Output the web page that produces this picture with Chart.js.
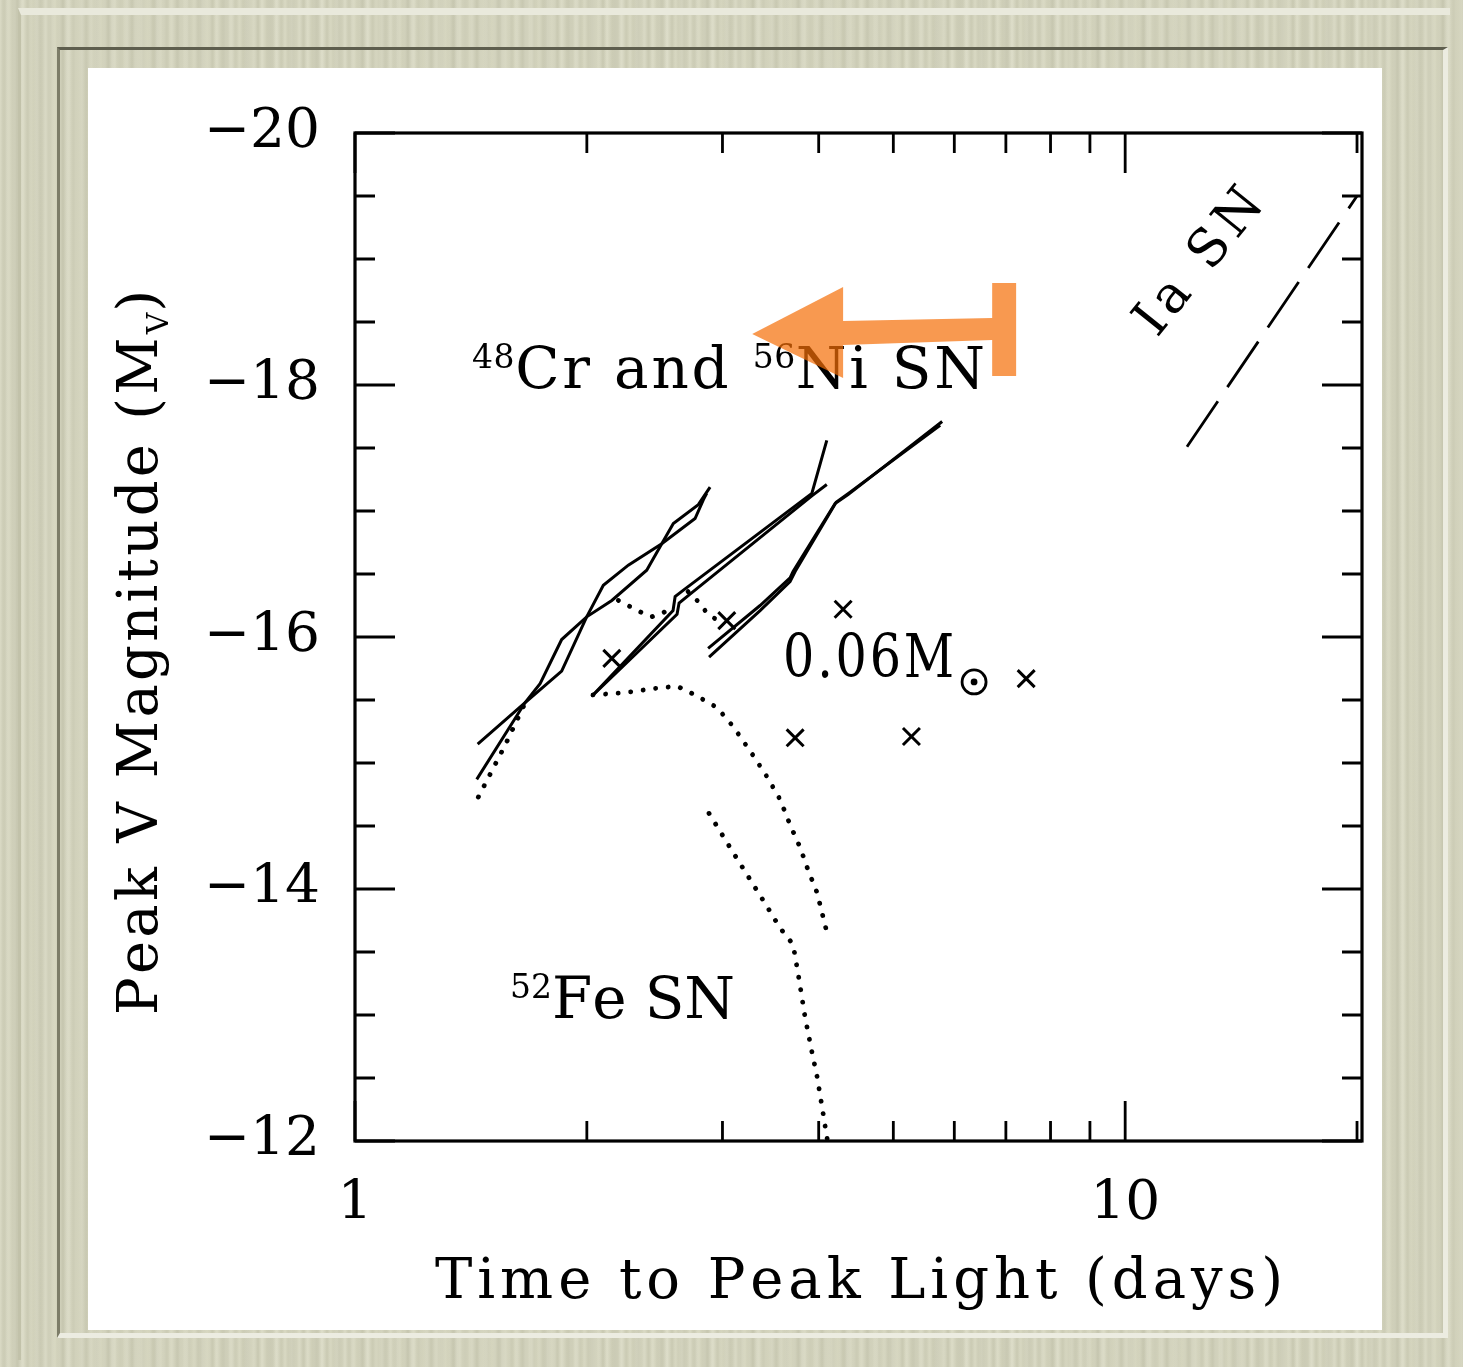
<!DOCTYPE html>
<html>
<head>
<meta charset="utf-8">
<script src="https://cdn.jsdelivr.net/npm/chart.js@4.4.1/dist/chart.umd.min.js"></script>
<style>
  html, body { margin: 0; padding: 0; }
  body {
    width: 1463px; height: 1367px; position: relative; overflow: hidden;
    background:
      repeating-linear-gradient(90deg, rgba(255,255,255,0.10) 0px, rgba(0,0,0,0.04) 5px, rgba(255,255,255,0.06) 9px, rgba(0,0,0,0.05) 17px, rgba(255,255,255,0.10) 23px),
      repeating-linear-gradient(90deg, #d6d6bf 0px, #d0d0b8 3px, #dadac4 7px, #d2d2ba 12px, #d6d6bf 15px);
  }
  .frame { position: absolute; left: 18px; top: 8px; width: 1432px; height: 1352px;
           border-top: 7px solid #e9e9dc; border-left: 3px solid #c2c2aa; box-sizing: border-box; }
  .mat { position: absolute; left: 57px; top: 47px; width: 1391px; height: 1291px; box-sizing: border-box;
         border-top: 3px solid #5e5e4e; border-left: 3px solid #7c7c68;
         border-bottom: 5px solid #ecece1; border-right: 5px solid #ecece1; }
  .panel { position: absolute; left: 88px; top: 68px; width: 1294px; height: 1262px; background: #fff; }
  canvas { position: absolute; left: 0; top: 0; }
</style>
</head>
<body>
<div class="frame"></div>
<div class="mat"></div>
<div class="panel"></div>
<canvas id="chart" width="1463" height="1367"></canvas>
<script>
// axis ticks
const xMajorTicks = [1, 10];
const xMinorTicks = [2, 3, 4, 5, 6, 7, 8, 9, 20];
const yMajorTicks = [-20, -18, -16, -14, -12];
const yMinorTicks = [-19.5, -19, -18.5, -17.5, -17, -16.5, -15.5, -15, -14.5, -13.5, -13, -12.5];

// solid model tracks: time to peak (days) and peak Mv
const modelA1Time = [1.443, 1.663, 1.855, 1.999, 2.101, 2.264, 2.502, 2.764, 2.834, 2.862];
const modelA1Mag  = [-15.15, -15.48, -15.73, -16.16, -16.41, -16.57, -16.74, -16.94, -17.09, -17.14];
const modelA2Time = [1.439, 1.663, 1.739, 1.855, 1.999, 2.155, 2.392, 2.502, 2.590, 2.791, 2.891];
const modelA2Mag  = [-14.87, -15.48, -15.63, -15.98, -16.16, -16.29, -16.53, -16.74, -16.90, -17.05, -17.19];
const modelB1Time = [2.030, 2.588, 2.604, 2.667, 3.919, 4.098];
const modelB1Mag  = [-15.53, -16.21, -16.32, -16.37, -17.14, -17.56];
const modelB2Time = [2.030, 2.619, 2.635, 2.723, 3.919, 4.098];
const modelB2Mag  = [-15.53, -16.18, -16.27, -16.34, -17.12, -17.21];
const modelC1Time = [2.874, 3.357, 3.672, 3.705, 4.201, 4.368, 5.786];
const modelC1Mag  = [-15.91, -16.25, -16.47, -16.52, -17.06, -17.13, -17.71];
const modelC2Time = [2.882, 3.357, 3.672, 3.728, 4.214, 4.394, 5.751];
const modelC2Mag  = [-15.84, -16.21, -16.44, -16.52, -17.07, -17.15, -17.68];

// dotted tracks
const dotLeftTime  = [1.446, 1.566, 1.679];
const dotLeftMag   = [-14.73, -15.14, -15.53];
const dotLinkATime = [2.198, 2.345, 2.428, 2.527, 2.590];
const dotLinkAMag  = [-16.29, -16.20, -16.16, -16.20, -16.25];
const dotLinkBTime = [2.707, 2.781, 2.874, 2.997];
const dotLinkBMag  = [-16.36, -16.29, -16.18, -16.11];
const dotUpperTime = [2.037, 2.256, 2.431, 2.619, 2.764, 2.952, 3.097, 3.288, 3.428, 3.564, 3.672, 3.784, 3.875, 3.981, 4.090];
const dotUpperMag  = [-15.54, -15.56, -15.59, -15.61, -15.54, -15.44, -15.29, -15.06, -14.89, -14.71, -14.51, -14.33, -14.15, -13.97, -13.68];
const dotLowerTime = [2.882, 3.097, 3.428, 3.564, 3.705, 3.761, 3.841, 3.922, 3.981, 4.053, 4.102];
const dotLowerMag  = [-14.60, -14.29, -13.86, -13.69, -13.56, -13.33, -12.98, -12.70, -12.51, -12.22, -12.02];

// x marks at 0.06 Msun
const markTime = [2.155, 3.039, 4.303, 7.438, 3.728, 5.278];
const markMag  = [-15.83, -16.13, -16.22, -15.67, -15.20, -15.21];

// type Ia reference line
const iaTime = [12.03, 20.0];
const iaMag  = [-17.51, -19.50];

const pts = (ts, ms) => ts.map((t, i) => ({ x: t, y: ms[i] }));

const solid = (ts, ms) => ({
    data: pts(ts, ms), showLine: true, borderColor: '#000', borderWidth: 3,
    pointRadius: 0, tension: 0, fill: false
});
const dotted = (ts, ms) => ({
    data: pts(ts, ms), showLine: true, borderColor: '#000', borderWidth: 4.8,
    borderDash: [0.1, 12.5], borderCapStyle: 'round', pointRadius: 0, tension: 0, fill: false
});

const SERIF = '"DejaVu Serif", "Liberation Serif", serif';

// draws text char by char, stretching the gaps so the run fills `width`;
// sx < 1 squeezes the glyphs horizontally
function drawSpaced(ctx, pieces, x, y, width, sx = 1) {
    const chars = [];
    pieces.forEach(p => {
        ctx.font = p.font;
        for (const ch of p.text) {
            chars.push({ ch, font: p.font, dy: p.dy || 0, k: p.k == null ? 1 : p.k, w: ctx.measureText(ch).width * sx });
        }
    });
    const natural = chars.reduce((s, c) => s + c.w, 0);
    const units = chars.slice(0, -1).reduce((s, c) => s + c.k, 0);
    const gap = units > 0 ? (width - natural) / units : 0;
    let cx = x;
    chars.forEach(c => {
        ctx.save();
        ctx.font = c.font;
        ctx.translate(cx, y + c.dy);
        ctx.scale(sx, 1);
        ctx.fillText(c.ch, 0, 0);
        ctx.restore();
        cx += c.w + gap * c.k;
    });
    return cx - gap;
}

const axesFrame = {
    id: 'axesFrame',
    afterDatasetsDraw(chart) {
        const { ctx, chartArea: a, scales: { x, y } } = chart;
        ctx.save();
        ctx.strokeStyle = '#000';
        ctx.lineWidth = 2.8;
        ctx.beginPath();
        const tickX = (v, len) => {
            const px = x.getPixelForValue(v);
            ctx.moveTo(px, a.bottom); ctx.lineTo(px, a.bottom - len);
            ctx.moveTo(px, a.top); ctx.lineTo(px, a.top + len);
        };
        const tickY = (v, len) => {
            const py = y.getPixelForValue(v);
            ctx.moveTo(a.left, py); ctx.lineTo(a.left + len, py);
            ctx.moveTo(a.right, py); ctx.lineTo(a.right - len, py);
        };
        xMajorTicks.forEach(v => tickX(v, 40));
        xMinorTicks.forEach(v => tickX(v, 20));
        yMajorTicks.forEach(v => tickY(v, 40));
        yMinorTicks.forEach(v => tickY(v, 20));
        ctx.stroke();
        ctx.lineWidth = 3.2;
        ctx.strokeRect(a.left, a.top, a.right - a.left, a.bottom - a.top);
        ctx.restore();
    }
};

const annotations = {
    id: 'annotations',
    afterDraw(chart) {
        const { ctx, scales: { x, y } } = chart;
        const px = v => x.getPixelForValue(v);
        const py = v => y.getPixelForValue(v);
        ctx.save();
        ctx.fillStyle = '#000';
        ctx.textBaseline = 'alphabetic';
        ctx.textAlign = 'left';

        const main = `56px ${SERIF}`;
        const sup = `33px ${SERIF}`;

        // axis titles
        drawSpaced(ctx, [{ text: 'Time to Peak Light (days)', font: main }], 435, 1298, 848);
        ctx.save();
        ctx.translate(157, 1015);
        ctx.rotate(-Math.PI / 2);
        drawSpaced(ctx, [
            { text: 'Peak V Magnitude (M', font: main },
            { text: 'V', font: `30px ${SERIF}`, dy: 11, k: 0.2 },
            { text: ')', font: main }
        ], 0, 0, 725);
        ctx.restore();

        // labels inside the plot
        const big = `58px ${SERIF}`;
        drawSpaced(ctx, [
            { text: '48', font: sup, dy: -20, k: 0.2 },
            { text: 'Cr and ', font: big },
            { text: '56', font: sup, dy: -20, k: 0.2 },
            { text: 'Ni SN', font: big }
        ], px(1.419), py(-17.976), 513);

        drawSpaced(ctx, [
            { text: '52', font: sup, dy: -20, k: 0.2 },
            { text: 'Fe SN', font: big }
        ], px(1.590), py(-12.98), 225);

        const mEnd = drawSpaced(ctx, [{ text: '0.06M', font: `60px ${SERIF}` }], px(3.596), py(-15.683), 171, 0.82);
        // solar symbol
        const cx = mEnd + 20, cy = py(-15.683) + 5;
        ctx.lineWidth = 2.8;
        ctx.strokeStyle = '#000';
        ctx.beginPath(); ctx.arc(cx, cy, 12, 0, Math.PI * 2); ctx.stroke();
        ctx.beginPath(); ctx.arc(cx, cy, 3.4, 0, Math.PI * 2); ctx.fill();

        ctx.save();
        ctx.translate(px(11.00), py(-18.37));
        ctx.rotate(-51 * Math.PI / 180);
        drawSpaced(ctx, [{ text: 'Ia SN', font: `52px ${SERIF}` }], 0, 0, 172);
        ctx.restore();

        // orange arrow pointing to shorter rise times
        const arrow = [[3.279, -18.405], [4.303, -18.778], [4.303, -18.508], [6.719, -18.532],
                       [6.719, -18.810], [7.218, -18.810], [7.218, -18.071], [6.719, -18.071],
                       [6.719, -18.357], [4.303, -18.317], [4.303, -18.056]];
        ctx.fillStyle = 'rgba(245, 110, 5, 0.7)';
        ctx.beginPath();
        arrow.forEach(([t, m], i) => i ? ctx.lineTo(px(t), py(m)) : ctx.moveTo(px(t), py(m)));
        ctx.closePath();
        ctx.fill();
        ctx.restore();
    }
};

new Chart(document.getElementById('chart'), {
    type: 'scatter',
    data: {
        datasets: [
            solid(modelA1Time, modelA1Mag),
            solid(modelA2Time, modelA2Mag),
            solid(modelB1Time, modelB1Mag),
            solid(modelB2Time, modelB2Mag),
            solid(modelC1Time, modelC1Mag),
            solid(modelC2Time, modelC2Mag),
            dotted(dotLeftTime, dotLeftMag),
            dotted(dotLinkATime, dotLinkAMag),
            dotted(dotLinkBTime, dotLinkBMag),
            dotted(dotUpperTime, dotUpperMag),
            dotted(dotLowerTime, dotLowerMag),
            {
                data: pts(markTime, markMag), showLine: false, pointStyle: 'crossRot',
                pointRadius: 12, pointBorderWidth: 3, pointBorderColor: '#000', borderColor: '#000'
            },
            {
                data: pts(iaTime, iaMag), showLine: true, borderColor: '#000', borderWidth: 2.8,
                borderDash: [55, 17], pointRadius: 0, tension: 0, fill: false
            }
        ]
    },
    options: {
        responsive: false,
        animation: false,
        layout: { padding: { top: 133, right: 101, left: 0, bottom: 0 } },
        plugins: { legend: { display: false }, tooltip: { enabled: false } },
        scales: {
            x: {
                type: 'logarithmic', min: 1, max: 20.3,
                grid: { display: false, drawTicks: false }, border: { display: false },
                afterBuildTicks: s => { s.ticks = xMajorTicks.map(v => ({ value: v })); },
                afterFit: s => { s.height = 226; },
                ticks: {
                    font: { family: SERIF, size: 55 }, color: '#000', padding: 31,
                    autoSkip: false, maxRotation: 0, callback: v => String(v)
                }
            },
            y: {
                min: -20, max: -12, reverse: true,
                grid: { display: false, drawTicks: false }, border: { display: false },
                afterBuildTicks: s => { s.ticks = yMajorTicks.map(v => ({ value: v })); },
                afterFit: s => { s.width = 355; },
                ticks: {
                    font: { family: SERIF, size: 55 }, color: '#000', padding: 35,
                    autoSkip: false, callback: v => '\u2212' + Math.abs(v)
                }
            }
        }
    },
    plugins: [axesFrame, annotations]
});
</script>
</body>
</html>
